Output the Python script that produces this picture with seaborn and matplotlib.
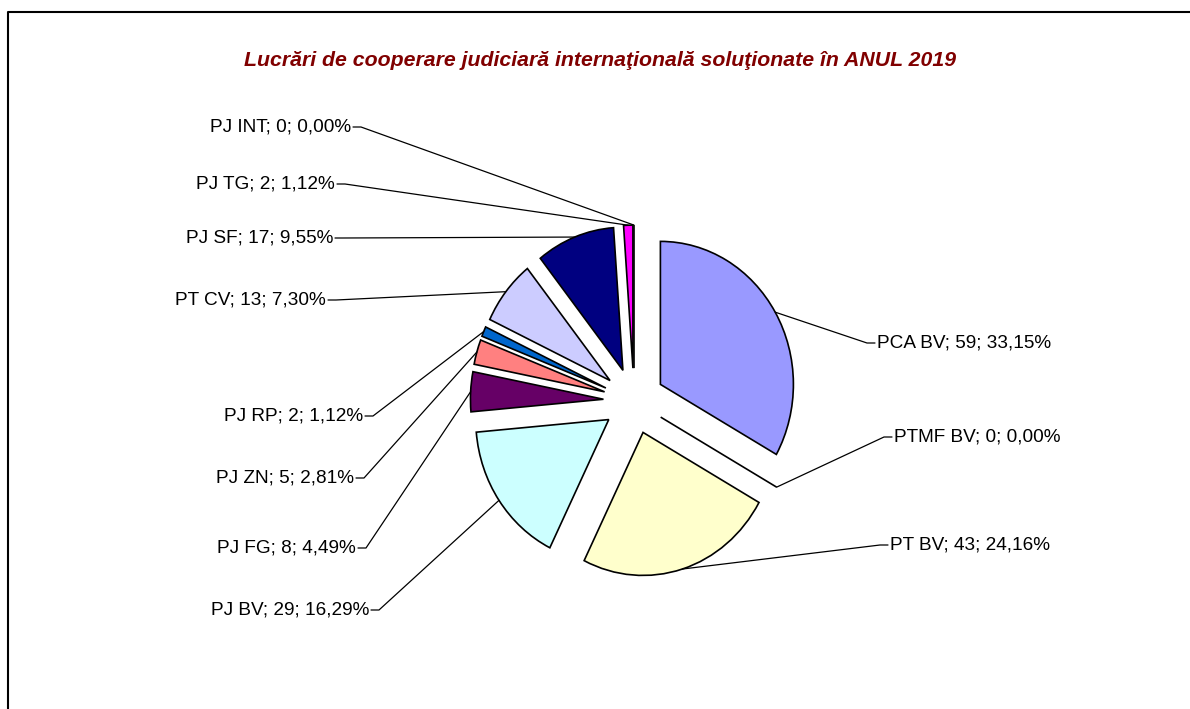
import numpy as np
import seaborn as sns
import matplotlib.pyplot as plt
from matplotlib.lines import Line2D

# data (clockwise from 12 o'clock)
labels = ["PCA BV", "PTMF BV", "PT BV", "PJ BV", "PJ FG", "PJ ZN",
          "PJ RP", "PT CV", "PJ SF", "PJ TG", "PJ INT"]
values = [59, 0, 43, 29, 8, 5, 2, 13, 17, 2, 0]
colors = ["#9999FF", "#993366", "#FFFFCC", "#CCFFFF", "#660066", "#FF8080",
          "#0066CC", "#CCCCFF", "#000080", "#FF00FF", "#FF00FF"]

# label anchor positions in pixels from top-left (x, y, side)
label_pos = [(877, 343, "L"), (894, 437, "L"), (890, 545, "L"),
             (369, 610, "R"), (356, 548, "R"), (354, 478, "R"),
             (363, 416, "R"), (326, 300, "R"), (333, 238, "R"),
             (335, 184, "R"), (351, 127, "R")]

title = "Lucrări de cooperare judiciară internaţională soluţionate în ANUL 2019"

sns.set_style("white")
plt.rcParams["font.family"] = ["Liberation Sans", "DejaVu Sans"]

W, H = 1190, 709
fig = plt.figure(figsize=(W / 100, H / 100), dpi=100)
ax = fig.add_axes([0, 0, 1, 1])

wedges, _ = ax.pie(values, colors=colors, startangle=90, counterclock=False,
                   explode=[0.23] * len(values), radius=1.0,
                   wedgeprops=dict(edgecolor="black", linewidth=1.2))

# slightly stretched ellipse like the original
cx, cy = 634, 401
sx, sy = 133, 143
ax.set_aspect("auto")
ax.set_xlim(-cx / sx, (W - cx) / sx)
ax.set_ylim(-(H - cy) / sy, cy / sy)
ax.axis("off")

total = sum(values)
for w, lab, v, (tx, ty, side) in zip(wedges, labels, values, label_pos):
    theta = np.deg2rad((w.theta1 + w.theta2) / 2)
    px = w.center[0] + w.r * np.cos(theta)
    py = w.center[1] + w.r * np.sin(theta)
    dx, dy = ax.transData.transform((px, py))
    pct = f"{v / total * 100:.2f}".replace(".", ",")
    text = f"{lab}; {v}; {pct}%"
    yb = H - ty
    if side == "R":
        ax.text(tx, yb, text, transform=None, ha="right", va="center",
                fontsize=13.7, color="black")
        xs = [tx + 2, tx + 10, dx]
    else:
        ax.text(tx, yb, text, transform=None, ha="left", va="center",
                fontsize=13.7, color="black")
        xs = [tx - 2, tx - 10, dx]
    fig.add_artist(Line2D(xs, [yb, yb, dy], transform=None,
                          color="black", linewidth=0.9))

fig.text(600 / W, 1 - 61 / H, title, ha="center", va="center",
         fontsize=15.3, fontweight="bold", fontstyle="italic", color="#800000")

# chart area border (top and left visible)
fig.add_artist(Line2D([8, 8, W], [0, H - 12, H - 12], transform=None,
                      color="black", linewidth=1.5))

fig.savefig("out.png", dpi=100, facecolor="white")
